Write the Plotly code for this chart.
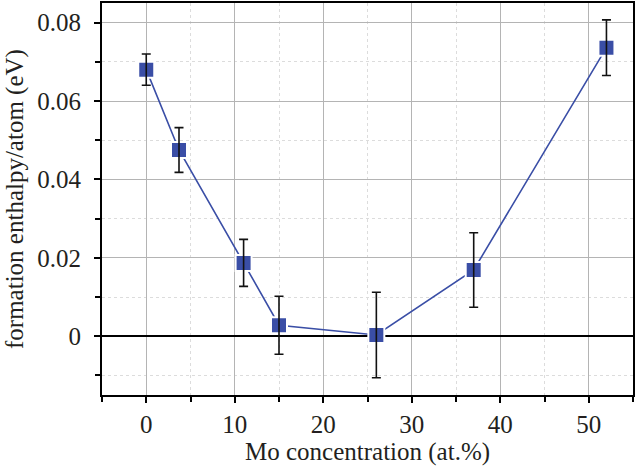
import plotly.graph_objects as go

mo_conc = [0, 3.7, 11, 15, 26, 37, 52]
enthalpy = [0.0680, 0.0475, 0.0187, 0.0028, 0.0003, 0.0169, 0.0736]
err = [0.0040, 0.0057, 0.0060, 0.0074, 0.0109, 0.0095, 0.0071]

x_ticks = [0, 10, 20, 30, 40, 50]
y_ticks = [0, 0.02, 0.04, 0.06, 0.08]
y_tick_labels = ["0", "0.02", "0.04", "0.06", "0.08"]
x_title = "Mo concentration (at.%)"
y_title = "formation enthalpy/atom (eV)"

blue = "#3a4ea6"
font = "Liberation Serif, serif"
txt = "#231f20"

fig = go.Figure()
fig.add_trace(go.Scatter(
    x=mo_conc, y=enthalpy, mode="lines+markers",
    line=dict(color=blue, width=1.6),
    marker=dict(symbol="square", size=16, color=blue, line=dict(color="white", width=2)),
    showlegend=False,
))
fig.add_trace(go.Scatter(
    x=mo_conc, y=enthalpy, mode="markers",
    marker=dict(color="rgba(0,0,0,0)", size=1),
    error_y=dict(type="data", array=err, visible=True, color="#111111", thickness=1.6, width=4.5),
    showlegend=False, hoverinfo="skip",
))

tf = dict(family=font, size=25, color=txt)
ttl = dict(family=font, size=25, color=txt)

fig.update_layout(
    width=637, height=468,
    margin=dict(l=102, r=4, t=3, b=73),
    paper_bgcolor="white", plot_bgcolor="white",
    font=tf,
    annotations=[
        dict(text=x_title, xref="paper", yref="paper", x=0.5, y=0, yshift=-57,
             xanchor="center", yanchor="middle", showarrow=False, font=ttl),
        dict(text=y_title, xref="paper", yref="paper", x=0, y=0.5, xshift=-87,
             xanchor="center", yanchor="middle", textangle=-90, showarrow=False, font=ttl),
    ],
)
fig.update_xaxes(
    range=[-5, 55], tickvals=x_ticks, ticks="outside", ticklen=6, tickwidth=1.5, tickcolor="black",
    showline=True, linecolor="black", linewidth=2, mirror=True, automargin=False,
    showgrid=True, gridcolor="#b4b4b4", gridwidth=1, zeroline=False,
    minor=dict(dtick=5, tick0=0, ticks="outside", ticklen=5, tickcolor="black", showgrid=True,
               gridcolor="#dcdcdc", griddash="dot", gridwidth=1),
    tickfont=tf,
)
fig.update_yaxes(
    range=[-0.015, 0.085], tickvals=y_ticks, ticktext=y_tick_labels, ticks="outside", ticklen=6,
    tickwidth=1.5, tickcolor="black", ticklabelstandoff=8,
    showline=True, linecolor="black", linewidth=2, mirror=True, automargin=False,
    showgrid=True, gridcolor="#b4b4b4", gridwidth=1,
    zeroline=True, zerolinecolor="black", zerolinewidth=1.5,
    minor=dict(dtick=0.01, tick0=0, ticks="outside", ticklen=5, tickcolor="black", showgrid=True,
               gridcolor="#dcdcdc", griddash="dot", gridwidth=1),
    tickfont=tf,
)

fig.write_html("out.html", config={"displayModeBar": False},
               post_script="document.body.style.margin='0';document.body.style.overflow='hidden';")
